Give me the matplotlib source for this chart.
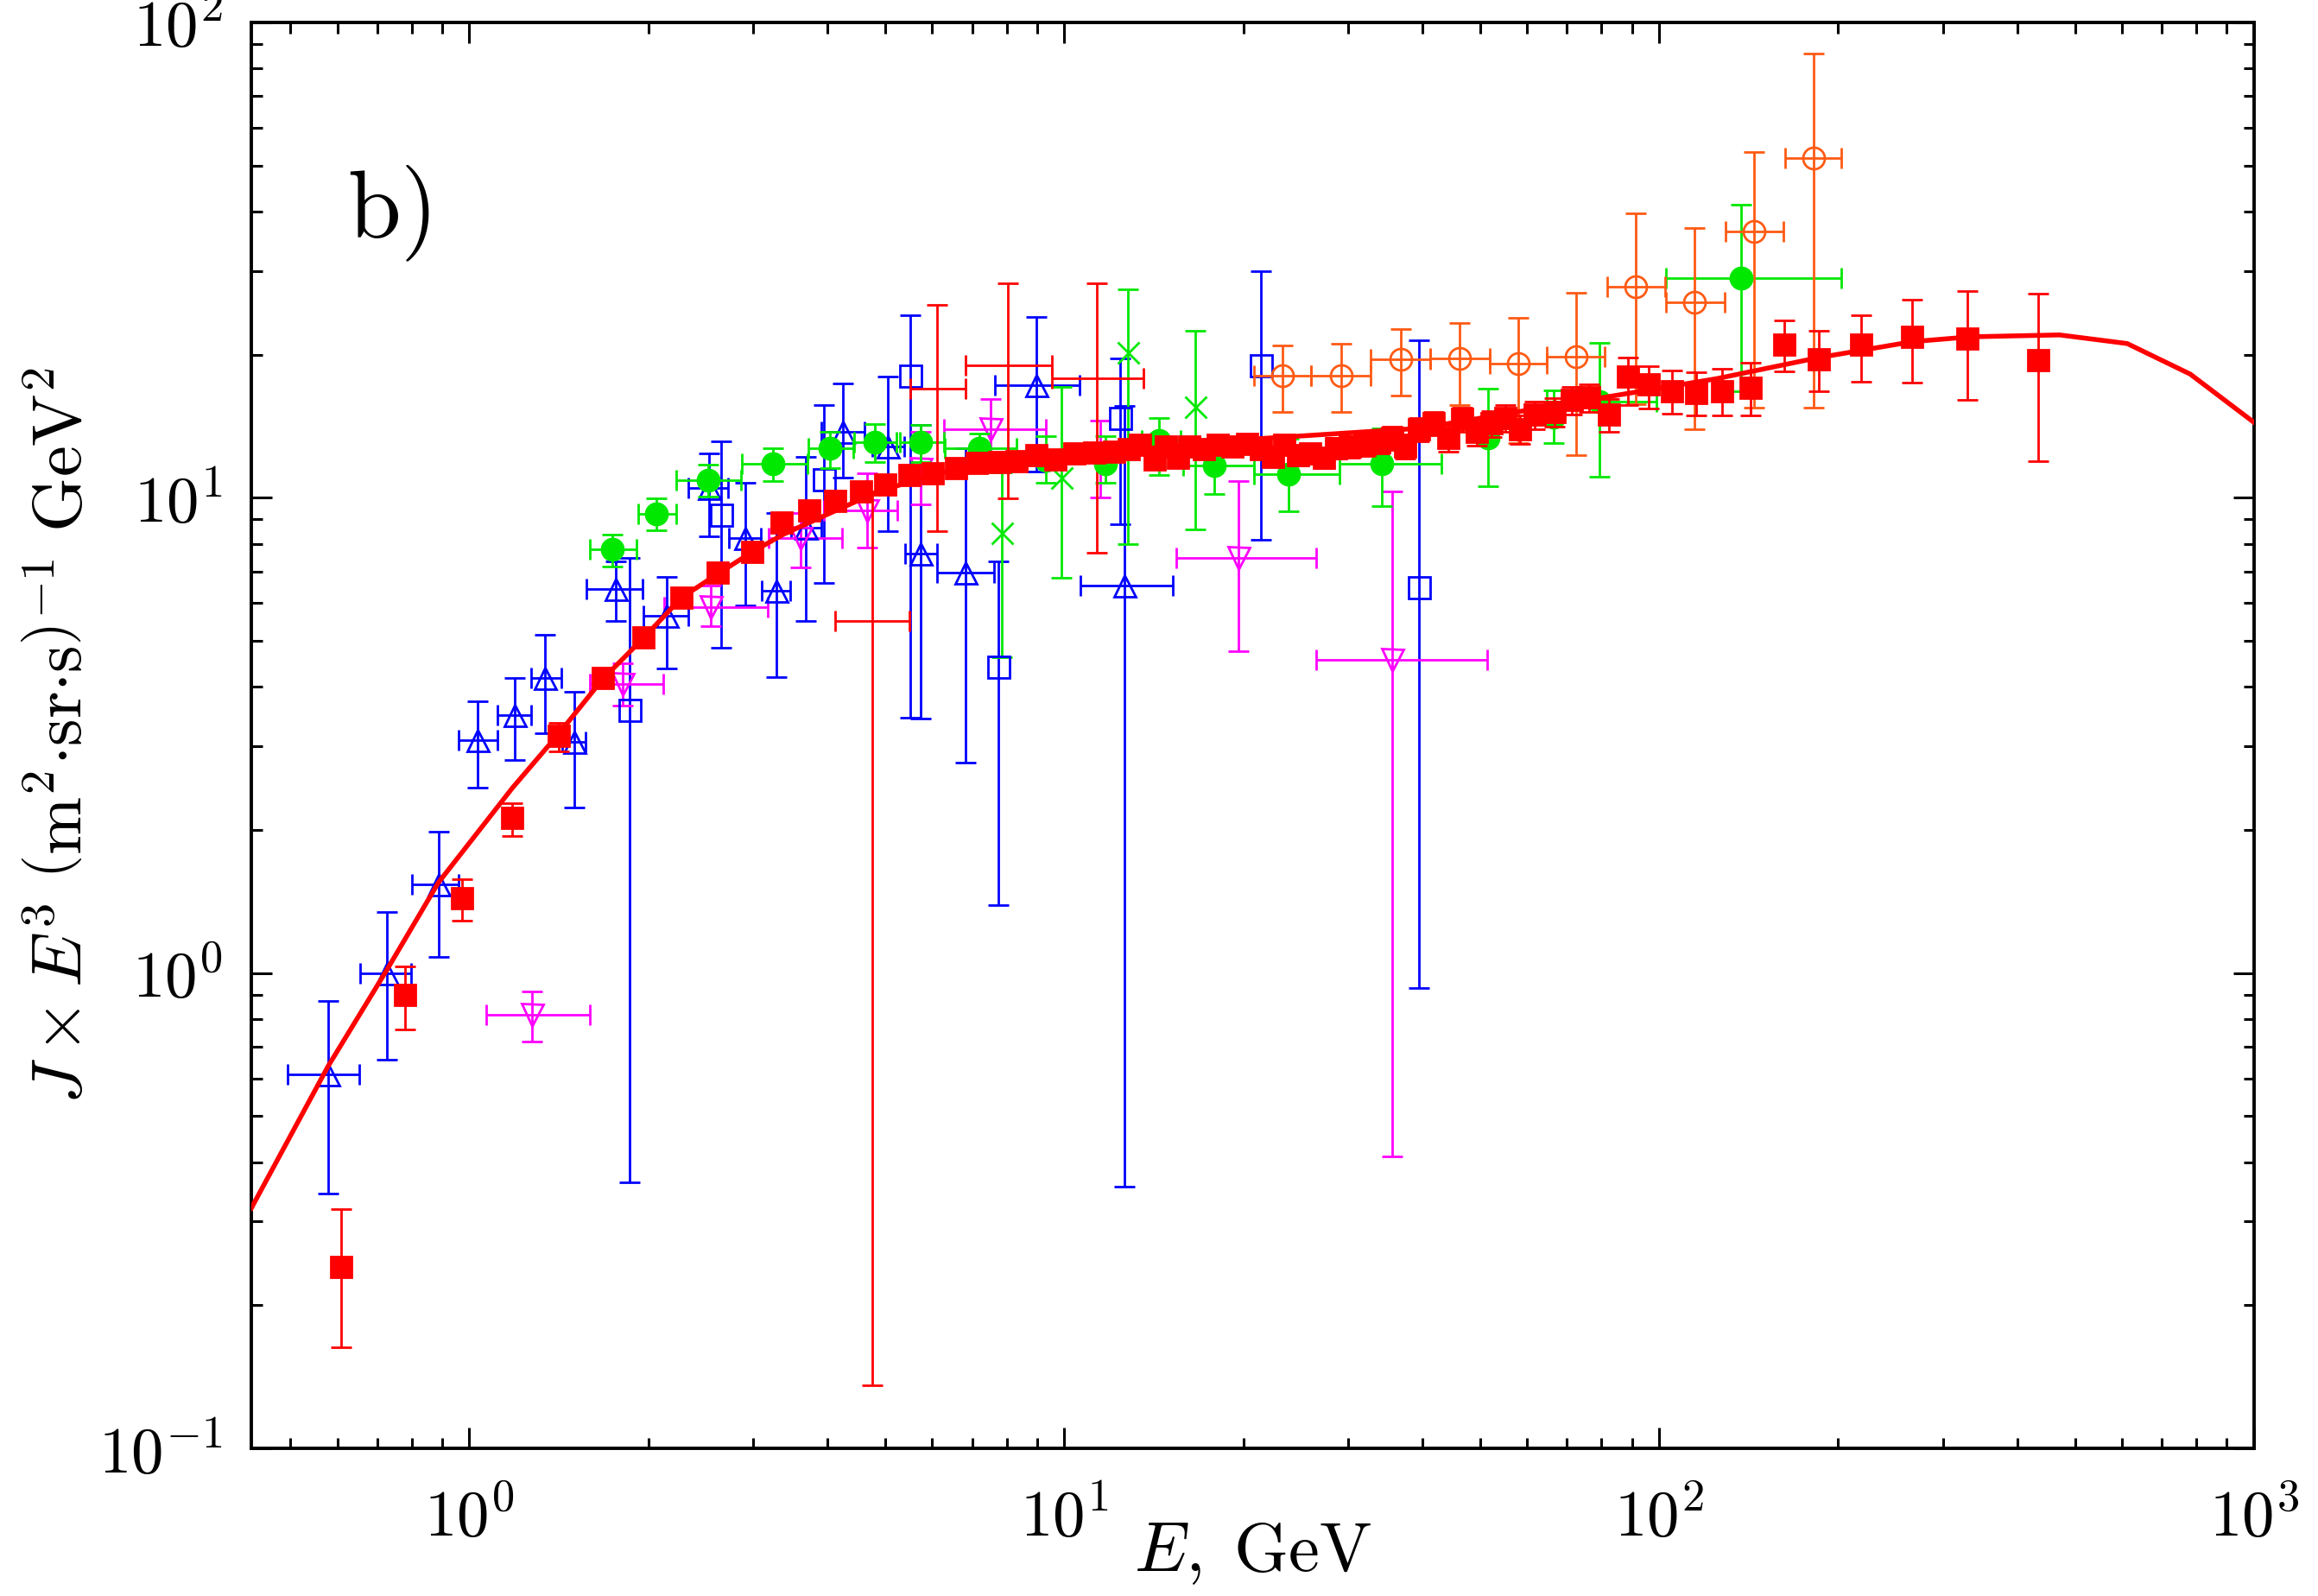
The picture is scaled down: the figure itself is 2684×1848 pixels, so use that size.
# -*- coding: utf-8 -*-
'''
    Espectro J x E^3 (painel b) - pontos experimentais e curva do modelo
'''

import matplotlib
matplotlib.use('Agg')
import matplotlib.pyplot as plt
from matplotlib.ticker import NullFormatter
import numpy as np

plt.rcParams['mathtext.fontset'] = 'cm'
plt.rcParams['font.family'] = ['DejaVu Serif']

# _____________________________________________________________________________
#                           Dados
# _____________________________________________________________________________

# quadrados vermelhos cheios (barras so em y, dados como deltas)
red_x = [0.608, 0.78, 0.972, 1.181, 1.413, 1.677, 1.963, 2.276, 2.617, 2.99,
         3.35, 3.73, 4.12, 4.56, 5.0, 5.5, 6.01, 6.58, 7.13, 7.78,
         8.32, 8.99, 9.66, 10.39, 11.23, 12.14, 12.84, 13.42, 14.19, 14.84,
         15.51, 16.22, 17.15, 18.13, 19.17, 20.27, 21.43, 22.4, 23.42, 24.76,
         25.9, 27.37, 28.62, 30.26, 32.0, 33.83, 35.6, 37.4, 39.5, 41.8,
         44.2, 46.7, 49.4, 52.2, 55.2, 58.3, 61.7, 66.7, 71.3, 76.2,
         82.4, 88.5, 96.0, 105.2, 115.5, 127.5, 142.5, 162.3, 185.5, 218.9,
         265.8, 330.2, 434.0]
red_y = [0.241, 0.90, 1.437, 2.118, 3.16, 4.18, 5.09, 6.17, 6.96, 7.69,
         8.86, 9.4, 9.86, 10.31, 10.65, 11.18, 11.27, 11.54, 11.84, 11.87,
         11.95, 12.29, 12.03, 12.37, 12.43, 12.49, 12.64, 12.91, 12.03, 12.81,
         12.12, 12.81, 12.64, 12.91, 12.81, 13.0, 12.64, 12.2, 12.91, 12.29,
         12.38, 12.12, 12.72, 12.81, 12.91, 13.09, 13.36, 12.81, 13.94, 14.33,
         13.36, 14.63, 13.75, 14.33, 14.73, 13.94, 14.94, 15.16, 16.03, 16.25,
         14.94, 17.99, 17.29, 16.74, 16.61, 16.74, 17.01, 21.03, 19.56, 20.96,
         21.82, 21.64, 19.5]
red_dlo = [0.078, 0.138, 0.148, 0.174, 0.232, 0.20, 0.22, 0.24, 0.26, 0.28,
           0.30, 0.30, 0.32, 0.32, 0.33, 0.34, 0.34, 0.35, 0.36, 0.36,
           0.36, 0.37, 0.37, 0.38, 0.38, 0.40, 0.40, 0.42, 0.42, 0.45,
           0.45, 0.48, 0.48, 0.50, 0.50, 0.52, 0.52, 0.55, 0.55, 0.58,
           0.60, 0.60, 0.62, 0.65, 0.68, 0.70, 0.75, 0.75, 0.80, 0.80,
           0.85, 0.85, 0.90, 0.90, 0.95, 0.95, 1.0, 1.05, 1.1, 1.1,
           1.2, 2.3, 1.9, 1.7, 1.71, 1.84, 2.09, 2.59, 2.82, 3.39,
           4.39, 5.55, 7.55]
red_dhi = [0.078, 0.132, 0.136, 0.157, 0.197, 0.20, 0.22, 0.24, 0.26, 0.28,
           0.30, 0.30, 0.32, 0.32, 0.33, 0.34, 0.34, 0.35, 0.36, 0.36,
           0.36, 0.37, 0.37, 0.38, 0.38, 0.40, 0.40, 0.42, 0.42, 0.45,
           0.45, 0.48, 0.48, 0.50, 0.50, 0.52, 0.52, 0.55, 0.55, 0.58,
           0.60, 0.60, 0.62, 0.65, 0.68, 0.70, 0.75, 0.75, 0.80, 0.80,
           0.85, 0.85, 0.90, 0.90, 0.95, 0.95, 1.0, 1.05, 1.1, 1.1,
           1.2, 1.7, 1.6, 1.78, 1.79, 1.92, 2.18, 2.57, 2.86, 3.26,
           4.25, 5.55, 7.42]

# barras vermelhas sem marcador
rbar_x = [4.76, 6.11, 8.03, 11.34]
rbar_y = [5.5, 16.96, 18.98, 17.86]
rbar_xlo = [4.12, 5.52, 6.83, 9.52]
rbar_xhi = [5.5, 6.83, 9.52, 13.58]
rbar_ylo = [0.136, 8.51, 9.99, 7.66]
rbar_yhi = [10.3, 25.43, 28.2, 28.2]

# triangulos azuis abertos
btri_x = [0.579, 0.727, 0.887, 1.033, 1.194, 1.341, 1.5, 1.762, 2.144, 2.529,
          2.914, 3.283, 3.68, 4.24, 5.05, 5.74, 6.83, 8.99, 12.62]
btri_y = [0.613, 1.0, 1.535, 3.085, 3.485, 4.18, 3.07, 6.43, 5.65, 10.48,
          8.24, 6.37, 8.65, 13.77, 12.81, 7.62, 6.96, 17.24, 6.53]
btri_xlo = [0.495, 0.656, 0.802, 0.959, 1.116, 1.269, 1.434, 1.573, 1.959,
            2.335, 2.735, 3.10, 3.47, 3.9, 4.75, 5.40, 6.11, 7.65, 10.64]
btri_xhi = [0.654, 0.798, 0.959, 1.116, 1.269, 1.43, 1.568, 1.953, 2.335,
            2.72, 3.093, 3.467, 3.9, 4.62, 5.38, 6.11, 7.63, 10.62, 15.22]
btri_ylo = [0.344, 0.658, 1.079, 2.451, 2.805, 3.198, 2.232, 5.51, 4.38, 8.31,
            5.94, 4.2, 5.51, 11.0, 8.51, 3.43, 2.766, 11.37, 0.356]
btri_yhi = [0.875, 1.346, 1.987, 3.736, 4.18, 5.155, 3.913, 7.36, 6.82, 12.41,
            10.74, 9.29, 12.21, 17.39, 17.95, 14.22, 12.71, 24.04, 15.6]

# quadrados azuis abertos
bsq_x = [1.857, 2.653, 3.95, 5.52, 7.76, 12.41, 21.4, 39.45]
bsq_y = [3.58, 9.22, 10.91, 18.09, 4.405, 14.73, 18.98, 6.48]
bsq_ylo = [0.363, 4.83, 6.61, 3.44, 1.39, 8.81, 8.15, 0.93]
bsq_yhi = [7.46, 13.12, 15.66, 24.24, 7.36, 19.67, 29.9, 21.48]

# circulos verdes cheios
gc_x = [1.742, 2.062, 2.52, 3.234, 4.036, 4.8, 5.73, 7.2, 14.45, 17.89,
        23.82, 34.2, 79.4, 137.5]
gc_y = [7.79, 9.25, 10.87, 11.77, 12.7, 13.06, 13.06, 12.72, 13.2, 11.7,
        11.22, 11.78, 15.92, 29.0]
gc_xlo = [1.597, 1.92, 2.226, 2.874, 3.71, 4.44, 5.29, 6.3, 13.5, 15.87,
          20.84, 29.0, 64.7, 102.7]
gc_xhi = [1.91, 2.226, 2.865, 3.70, 4.42, 5.23, 6.27, 8.3, 15.7, 20.84,
          29.0, 43.1, 99.1, 202.7]
gc_ylo = [7.15, 8.53, 10.07, 10.86, 11.54, 11.88, 11.9, 11.8, 11.14, 10.17,
          9.38, 9.62, 11.07, 16.74]
gc_yhi = [8.35, 9.96, 11.73, 12.7, 13.77, 14.27, 14.25, 13.65, 14.73, 13.3,
          13.3, 14.0, 21.13, 41.3]
# circulos verdes sem barra em x
gc2_x = [9.3, 11.74, 51.6, 66.6]
gc2_y = [12.0, 11.8, 13.36, 14.8]
gc2_ylo = [10.76, 10.76, 10.56, 13.05]
gc2_yhi = [13.46, 13.46, 16.99, 16.83]

# cruzes verdes
gx_x = [7.86, 9.89, 12.79, 16.58]
gx_y = [8.44, 11.0, 20.24, 15.53]
gx_ylo = [4.62, 6.79, 8.0, 8.58]
gx_yhi = [11.3, 17.07, 27.46, 22.47]

# triangulos invertidos magenta
mg_x = [1.276, 1.808, 2.542, 3.6, 4.66, 7.52, 19.63, 35.56]
mg_y = [0.818, 4.06, 5.88, 8.24, 9.4, 13.94, 7.48, 4.55]
mg_xlo = [1.067, 1.597, 2.126, 3.18, 3.95, 6.28, 15.44, 26.52]
mg_xhi = [1.597, 2.118, 3.17, 4.23, 5.25, 9.3, 26.52, 51.4]
mg_ylo = [0.718, 3.66, 5.36, 7.13, 7.86, 12.0, 4.75, 0.411]
mg_yhi = [0.915, 4.49, 6.53, 9.29, 11.27, 16.14, 10.86, 10.31]
mg2_x = [5.73, 11.5]
mg2_y = [11.5, 12.1]
mg2_ylo = [9.69, 10.03]
mg2_yhi = [13.74, 14.53]

# circulos laranja abertos
oc_x = [23.28, 29.2, 36.74, 46.25, 57.88, 72.6, 91.4, 114.8, 144.6, 181.7]
oc_y = [18.09, 18.09, 19.54, 19.61, 19.13, 19.77, 27.82, 25.82, 36.35, 51.8]
oc_xlo = [20.87, 26.02, 32.75, 41.22, 51.9, 64.7, 81.7, 102.7, 129.4, 162.6]
oc_xhi = [26.02, 32.75, 41.22, 51.9, 64.7, 81.0, 102.5, 128.8, 162.0, 202.7]
oc_ylo = [15.16, 15.16, 16.43, 15.66, 13.05, 12.31, 15.7, 13.91, 15.45, 15.45]
oc_yhi = [20.9, 21.07, 22.65, 23.28, 23.88, 26.93, 39.6, 36.88, 53.35, 86.1]

# curva do modelo
mod_x = [0.43, 0.579, 0.727, 0.887, 1.181, 1.413, 1.675, 1.963, 2.276, 2.609,
         2.99, 3.37, 3.995, 4.74, 5.62, 6.66, 7.9, 11.1, 17.5, 39.7,
         70.5, 125.0, 185.0, 267.0, 334.0, 471.0, 612.0, 781.0, 1000.0]
mod_y = [0.32, 0.637, 1.016, 1.549, 2.45, 3.186, 4.15, 5.07, 6.17, 6.9,
         7.69, 8.37, 9.22, 10.15, 10.91, 11.54, 11.92, 12.31, 13.1, 14.0,
         15.8, 17.8, 19.7, 21.3, 21.8, 22.0, 21.1, 18.2, 14.4]

# eixos
xticks = [1, 10, 100, 1000]
xticklabels = [r'$10^{0}$', r'$10^{1}$', r'$10^{2}$', r'$10^{3}$']
yticks = [0.1, 1, 10, 100]
yticklabels = [r'$10^{-1}$', r'$10^{0}$', r'$10^{1}$', r'$10^{2}$']

# _____________________________________________________________________________
#               Definicoes graficas
# _____________________________________________________________________________

RED = '#ff0000'
BLUE = '#0000ff'
GREEN = '#00e800'
MAGENTA = '#ff00ff'
ORANGE = '#ff5a14'
CAP = 4.4
ELW = 1.0
MS = 9.0


def bars(ax, x, y, ylo, yhi, xlo=None, xhi=None, **kw):
    x = np.asarray(x)
    y = np.asarray(y)
    yerr = [y - np.asarray(ylo), np.asarray(yhi) - y]
    xerr = None
    if xlo is not None:
        xerr = [x - np.asarray(xlo), np.asarray(xhi) - x]
    ax.errorbar(x, y, yerr=yerr, xerr=xerr, linestyle='none',
                capsize=CAP, elinewidth=ELW, capthick=ELW, **kw)


# _____________________________________________________________________________
#                           PLOTANDO
# _____________________________________________________________________________

fig = plt.figure(figsize=(13.42, 9.24), dpi=200)
ax = fig.add_axes([0.1084, 0.0925, 0.864, 0.8935])
ax.set_xscale('log')
ax.set_yscale('log')

bars(ax, btri_x, btri_y, btri_ylo, btri_yhi, btri_xlo, btri_xhi,
     color=BLUE, marker='^', ms=MS, mfc='none', mec=BLUE, mew=1.0, zorder=2)
bars(ax, bsq_x, bsq_y, bsq_ylo, bsq_yhi,
     color=BLUE, marker='s', ms=MS, mfc='none', mec=BLUE, mew=1.0, zorder=2)
bars(ax, mg_x, mg_y, mg_ylo, mg_yhi, mg_xlo, mg_xhi,
     color=MAGENTA, marker='v', ms=MS, mfc='none', mec=MAGENTA, mew=1.0,
     zorder=2)
bars(ax, mg2_x, mg2_y, mg2_ylo, mg2_yhi,
     color=MAGENTA, marker='v', ms=MS, mfc='none', mec=MAGENTA, mew=1.0,
     zorder=2)
bars(ax, gx_x, gx_y, gx_ylo, gx_yhi,
     color=GREEN, marker='x', ms=MS, mew=1.0, zorder=2)
bars(ax, gc_x, gc_y, gc_ylo, gc_yhi, gc_xlo, gc_xhi,
     color=GREEN, marker='o', ms=MS, mec=GREEN, zorder=3)
bars(ax, gc2_x, gc2_y, gc2_ylo, gc2_yhi,
     color=GREEN, marker='o', ms=MS, mec=GREEN, zorder=3)
bars(ax, oc_x, oc_y, oc_ylo, oc_yhi, oc_xlo, oc_xhi,
     color=ORANGE, marker='o', ms=MS, mfc='none', mec=ORANGE, mew=1.0,
     zorder=3)
bars(ax, rbar_x, rbar_y, rbar_ylo, rbar_yhi, rbar_xlo, rbar_xhi,
     color=RED, marker='none', zorder=3)

ax.errorbar(red_x, red_y, yerr=[red_dlo, red_dhi], linestyle='none',
            marker='s', ms=8.8, color=RED, mec=RED, capsize=CAP,
            elinewidth=ELW, capthick=ELW, zorder=4)
ax.plot(mod_x, mod_y, color=RED, linewidth=2.0, zorder=5)

ax.set_xlim(0.43, 1000)
ax.set_ylim(0.1, 100)
ax.set_xticks(xticks)
ax.set_xticklabels(xticklabels)
ax.set_yticks(yticks)
ax.set_yticklabels(yticklabels)
ax.xaxis.set_minor_formatter(NullFormatter())
ax.yaxis.set_minor_formatter(NullFormatter())
ax.tick_params(which='both', direction='in', top=True, right=True,
               width=1.1, colors='black')
ax.tick_params(which='major', length=8.6, labelsize=27)
ax.tick_params(which='minor', length=4.5)
ax.tick_params(axis='x', which='major', pad=16)
ax.tick_params(axis='y', which='major', pad=12)
for sp in ax.spines.values():
    sp.set_linewidth(1.4)

ax.text(0.0686, 0.866, r'$\mathrm{b)}$', transform=ax.transAxes,
        ha='center', va='center', fontsize=40)

fig.text(0.5404, 0.027, r'$E,\;\mathrm{GeV}$', ha='center', va='center',
         fontsize=29)
fig.text(0.027, 0.5395,
         r'$J \times E^3\ \left(\mathrm{m}^2{\cdot}\mathrm{sr}{\cdot}'
         r'\mathrm{s}\right)^{-1}\ \mathrm{GeV}^2$',
         ha='center', va='center', rotation=90, fontsize=29)

fig.savefig('out.png', dpi=200)
